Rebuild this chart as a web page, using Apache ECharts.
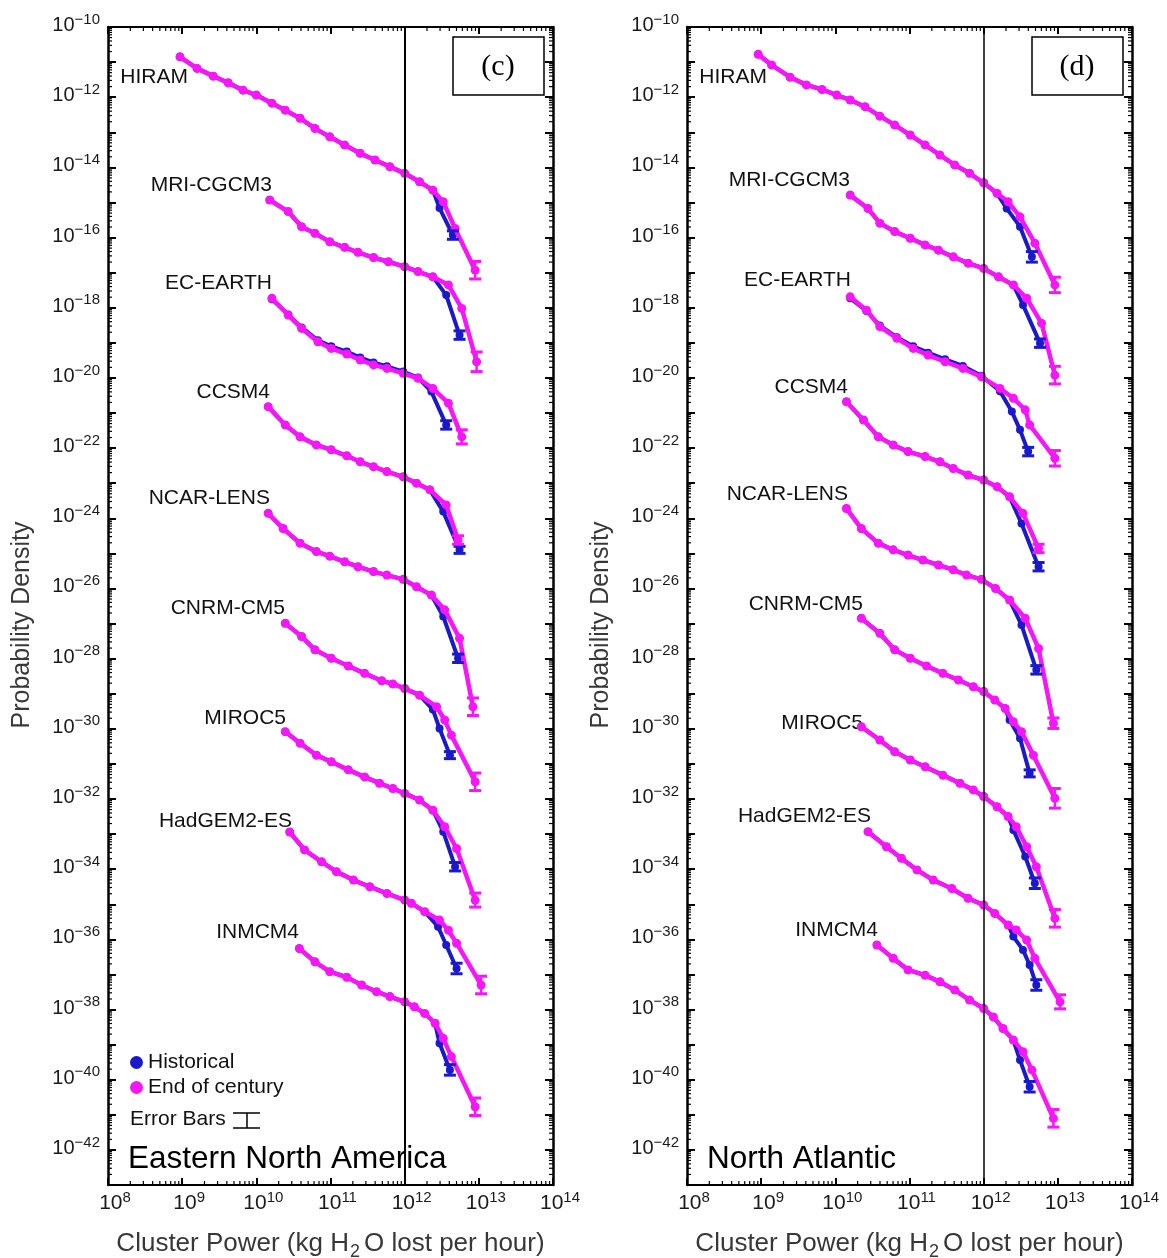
<!DOCTYPE html>
<html>
<head>
<meta charset="utf-8">
<script src="https://cdn.jsdelivr.net/npm/echarts@6/dist/echarts.min.js"></script>
<style>
html,body{margin:0;padding:0;background:#fff;}
#chart{width:1167px;height:1258px;}
</style>
</head>
<body>
<div id="chart"></div>
<script>
// ---------------- DATA (log10 of cluster power, log10 of probability density) ----------------
const MODELS = ['HIRAM','MRI-CGCM3','EC-EARTH','CCSM4','NCAR-LENS','CNRM-CM5','MIROC5','HadGEM2-ES','INMCM4'];
const X_TICK_EXPONENTS = [8, 9, 10, 11, 12, 13, 14];
const Y_TICK_EXPONENTS = [-10, -12, -14, -16, -18, -20, -22, -24, -26, -28, -30, -32, -34, -36, -38, -40, -42];
const X_RANGE = [8, 14];
const Y_RANGE = [-43, -10];
const THRESHOLD_EXP = 12;
const PANEL_TAGS = ['(c)', '(d)'];
const REGIONS = ['Eastern North America', 'North Atlantic'];
const LEGEND_NAMES = ['Historical', 'End of century'];

// ---- Panel (c): Eastern North America ----
const cBody_HIRAM = [[8.97,-10.85],[9.20,-11.18],[9.42,-11.40],[9.62,-11.59],[9.82,-11.80],[10.00,-11.94],[10.21,-12.17],[10.39,-12.37],[10.59,-12.60],[10.79,-12.89],[10.99,-13.13],[11.19,-13.36],[11.40,-13.60],[11.60,-13.79],[11.80,-13.98],[12.00,-14.17],[12.20,-14.41],[12.38,-14.65]];
const cHist_HIRAM = cBody_HIRAM.concat([[12.47,-15.16],[12.65,-15.93]]);
const cEnd_HIRAM  = cBody_HIRAM.concat([[12.52,-14.98],[12.68,-15.74],[12.95,-16.93]]);

const cBody_MRI = [[10.18,-14.93],[10.43,-15.26],[10.61,-15.69],[10.79,-15.88],[10.99,-16.12],[11.19,-16.28],[11.37,-16.42],[11.58,-16.57],[11.78,-16.69],[12.00,-16.83],[12.18,-16.97],[12.38,-17.12]];
const cHist_MRI = cBody_MRI.concat([[12.56,-17.64],[12.74,-18.78]]);
const cEnd_MRI  = cBody_MRI.concat([[12.59,-17.35],[12.77,-18.02],[12.97,-19.54]]);

const cHist_EC = [[10.21,-17.76],[10.43,-18.19],[10.61,-18.56],[10.83,-18.93],[11.01,-19.10],[11.22,-19.25],[11.40,-19.42],[11.58,-19.56],[11.76,-19.67],[11.98,-19.82],[12.18,-19.99],[12.36,-20.39],[12.56,-21.34]];
const cEnd_EC  = [[10.21,-17.73],[10.43,-18.21],[10.61,-18.59],[10.83,-18.97],[11.01,-19.16],[11.22,-19.32],[11.40,-19.49],[11.58,-19.63],[11.76,-19.73],[11.98,-19.87],[12.18,-20.01],[12.38,-20.30],[12.59,-20.72],[12.77,-21.68]];

const cBody_CCSM4 = [[10.16,-20.82],[10.39,-21.34],[10.59,-21.68],[10.81,-21.91],[11.01,-22.05],[11.22,-22.22],[11.40,-22.39],[11.58,-22.53],[11.76,-22.67],[11.98,-22.82],[12.16,-23.00],[12.34,-23.19]];
const cHist_CCSM4 = cBody_CCSM4.concat([[12.52,-23.81],[12.74,-24.90]]);
const cEnd_CCSM4  = cBody_CCSM4.concat([[12.56,-23.62],[12.72,-24.62]]);

const cBody_NCAR = [[10.16,-23.86],[10.36,-24.29],[10.59,-24.71],[10.81,-24.95],[10.99,-25.08],[11.19,-25.24],[11.37,-25.38],[11.58,-25.52],[11.76,-25.62],[11.98,-25.74],[12.16,-25.95],[12.36,-26.19]];
const cHist_NCAR = cBody_NCAR.concat([[12.52,-26.80],[12.72,-27.99]]);
const cEnd_NCAR  = cBody_NCAR.concat([[12.54,-26.61],[12.74,-27.42],[12.92,-29.37]]);

const cBody_CNRM = [[10.39,-26.99],[10.61,-27.37],[10.79,-27.75],[11.01,-27.99],[11.24,-28.21],[11.46,-28.42],[11.69,-28.63],[11.84,-28.72],[12.00,-28.85],[12.20,-29.04]];
const cHist_CNRM = cBody_CNRM.concat([[12.38,-29.45],[12.47,-29.99],[12.61,-30.75]]);
const cEnd_CNRM  = cBody_CNRM.concat([[12.43,-29.37],[12.54,-29.75],[12.63,-30.18],[12.95,-31.51]]);

const cBody_MIROC5 = [[10.39,-30.08],[10.59,-30.41],[10.81,-30.75],[11.01,-30.94],[11.24,-31.17],[11.46,-31.37],[11.66,-31.55],[11.84,-31.70],[12.00,-31.84],[12.20,-32.03],[12.38,-32.32]];
const cHist_MIROC5 = cBody_MIROC5.concat([[12.52,-32.93],[12.68,-33.93]]);
const cEnd_MIROC5  = cBody_MIROC5.concat([[12.54,-32.79],[12.70,-33.41],[12.95,-34.88]]);

const cBody_HadGEM = [[10.45,-32.94],[10.65,-33.45],[10.88,-33.79],[11.08,-34.07],[11.31,-34.31],[11.53,-34.50],[11.76,-34.69],[12.00,-34.88],[12.09,-34.97],[12.27,-35.21]];
const cHist_HadGEM = cBody_HadGEM.concat([[12.45,-35.64],[12.56,-36.16],[12.70,-36.83]]);
const cEnd_HadGEM  = cBody_HadGEM.concat([[12.47,-35.45],[12.59,-35.74],[12.70,-36.11],[13.03,-37.30]]);

const cBody_INMCM4 = [[10.58,-36.26],[10.79,-36.64],[10.99,-36.92],[11.22,-37.08],[11.42,-37.30],[11.62,-37.49],[11.80,-37.63],[12.00,-37.78],[12.13,-37.92],[12.27,-38.11],[12.41,-38.39]];
const cHist_INMCM4 = cBody_INMCM4.concat([[12.47,-38.96],[12.61,-39.72]]);
const cEnd_INMCM4  = cBody_INMCM4.concat([[12.52,-38.82],[12.63,-39.34],[12.95,-40.77]]);

// half-height (decades) of the error bar on the last point of each curve
const cErrHist = [0.12, 0.12, 0.12, 0.10, 0.12, 0.10, 0.12, 0.15, 0.15];
const cErrEnd  = [0.25, 0.28, 0.20, 0.12, 0.25, 0.25, 0.20, 0.25, 0.25];

// ---- Panel (d): North Atlantic ----
const dBody_HIRAM = [[8.96,-10.78],[9.14,-11.08],[9.39,-11.43],[9.61,-11.65],[9.82,-11.78],[10.02,-11.94],[10.20,-12.08],[10.40,-12.27],[10.60,-12.54],[10.80,-12.79],[11.01,-13.08],[11.21,-13.36],[11.41,-13.65],[11.61,-13.93],[11.81,-14.17],[12.00,-14.44],[12.18,-14.74]];
const dHist_HIRAM = dBody_HIRAM.concat([[12.31,-15.17],[12.49,-15.69],[12.65,-16.55]]);
const dEnd_HIRAM  = dBody_HIRAM.concat([[12.33,-14.98],[12.49,-15.41],[12.69,-16.16],[12.96,-17.35]]);

const dBody_MRI = [[10.20,-14.79],[10.44,-15.17],[10.60,-15.59],[10.80,-15.83],[11.01,-16.02],[11.21,-16.21],[11.39,-16.36],[11.59,-16.55],[11.79,-16.73],[12.00,-16.88],[12.20,-17.12],[12.40,-17.35]];
const dHist_MRI = dBody_MRI.concat([[12.53,-17.92],[12.76,-19.01]]);
const dEnd_MRI  = dBody_MRI.concat([[12.58,-17.73],[12.78,-18.44],[12.96,-19.92]]);

const dHist_EC = [[10.20,-17.73],[10.42,-18.09],[10.60,-18.51],[10.83,-18.84],[11.05,-19.10],[11.25,-19.28],[11.48,-19.47],[11.72,-19.66],[11.97,-19.94],[12.22,-20.38],[12.38,-20.96],[12.49,-21.48],[12.60,-22.10]];
const dEnd_EC  = [[10.20,-17.69],[10.42,-18.07],[10.60,-18.54],[10.83,-18.87],[11.05,-19.16],[11.25,-19.35],[11.48,-19.54],[11.72,-19.73],[11.97,-19.97],[12.22,-20.30],[12.40,-20.58],[12.56,-20.91],[12.62,-21.34],[12.96,-22.29]];

const dBody_CCSM4 = [[10.15,-20.68],[10.38,-21.20],[10.58,-21.68],[10.78,-21.91],[10.98,-22.10],[11.21,-22.24],[11.41,-22.39],[11.59,-22.58],[11.79,-22.77],[12.00,-22.91],[12.18,-23.10],[12.35,-23.39]];
const dHist_CCSM4 = dBody_CCSM4.concat([[12.51,-24.15],[12.74,-25.38]]);
const dEnd_CCSM4  = dBody_CCSM4.concat([[12.53,-23.86],[12.74,-24.86]]);

const dBody_NCAR = [[10.15,-23.72],[10.35,-24.29],[10.58,-24.71],[10.78,-24.90],[10.98,-25.05],[11.18,-25.19],[11.39,-25.33],[11.59,-25.47],[11.77,-25.62],[11.97,-25.74],[12.16,-26.00],[12.35,-26.33]];
const dHist_NCAR = dBody_NCAR.concat([[12.51,-27.04],[12.71,-28.32]]);
const dEnd_NCAR  = dBody_NCAR.concat([[12.56,-26.85],[12.74,-27.71],[12.94,-29.84]]);

const dBody_CNRM = [[10.35,-26.85],[10.60,-27.28],[10.80,-27.75],[11.01,-27.99],[11.23,-28.21],[11.45,-28.42],[11.66,-28.61],[11.86,-28.80],[12.00,-28.94],[12.15,-29.18],[12.29,-29.42]];
const dHist_CNRM = dBody_CNRM.concat([[12.35,-29.75],[12.49,-30.27],[12.62,-31.27]]);
const dEnd_CNRM  = dBody_CNRM.concat([[12.40,-29.80],[12.51,-30.08],[12.67,-30.75],[12.96,-31.98]]);

const dBody_MIROC5 = [[10.35,-29.94],[10.60,-30.32],[10.80,-30.65],[11.01,-30.89],[11.21,-31.08],[11.45,-31.32],[11.68,-31.55],[11.86,-31.74],[12.00,-31.93],[12.18,-32.22],[12.33,-32.50]];
const dHist_MIROC5 = dBody_MIROC5.concat([[12.40,-32.88],[12.56,-33.64],[12.69,-34.40]]);
const dEnd_MIROC5  = dBody_MIROC5.concat([[12.44,-32.79],[12.58,-33.36],[12.71,-33.93],[12.96,-35.40]]);

const dBody_HadGEM = [[10.44,-32.93],[10.69,-33.36],[10.89,-33.69],[11.10,-34.02],[11.32,-34.31],[11.57,-34.55],[11.79,-34.83],[12.00,-35.02],[12.15,-35.26],[12.33,-35.59]];
const dHist_HadGEM = dBody_HadGEM.concat([[12.40,-35.92],[12.53,-36.30],[12.62,-36.73],[12.71,-37.30]]);
const dEnd_HadGEM  = dBody_HadGEM.concat([[12.44,-35.73],[12.58,-36.02],[12.69,-36.54],[13.03,-37.78]]);

const dBody_INMCM4 = [[10.56,-36.16],[10.78,-36.54],[10.98,-36.87],[11.21,-37.02],[11.41,-37.21],[11.61,-37.44],[11.81,-37.73],[12.00,-37.97],[12.13,-38.21],[12.26,-38.54],[12.40,-38.87]];
const dHist_INMCM4 = dBody_INMCM4.concat([[12.49,-39.44],[12.62,-40.20]]);
const dEnd_INMCM4  = dBody_INMCM4.concat([[12.53,-39.20],[12.65,-39.72],[12.94,-41.10]]);

const dErrHist = [0.15, 0.12, 0.12, 0.12, 0.12, 0.10, 0.15, 0.15, 0.15];
const dErrEnd  = [0.22, 0.25, 0.22, 0.12, 0.15, 0.28, 0.25, 0.20, 0.25];

// ---------------- LAYOUT / STYLE ----------------
const FONT = '"Liberation Sans", Arial, Helvetica, sans-serif';
const BLUE = '#1a1acc';
const MAGENTA = '#f716f7';
const GRIDS = [
  {left: 108, top: 27, width: 445, height: 1158},
  {left: 687, top: 27, width: 445, height: 1158}
];
// model label anchor: [right edge x, centre y] in pixels
const LABEL_POS = [
  [[188,77],[272,185],[272,283],[270,392],[270,498],[285,608],[286,718],[292,821],[299,932]],
  [[767,77],[850,180],[851,280],[848,387],[848,494],[863,604],[863,723],[871,816],[878,930]]
];

const PANELS = [
  {hist: [cHist_HIRAM,cHist_MRI,cHist_EC,cHist_CCSM4,cHist_NCAR,cHist_CNRM,cHist_MIROC5,cHist_HadGEM,cHist_INMCM4],
   end:  [cEnd_HIRAM,cEnd_MRI,cEnd_EC,cEnd_CCSM4,cEnd_NCAR,cEnd_CNRM,cEnd_MIROC5,cEnd_HadGEM,cEnd_INMCM4],
   errHist: cErrHist, errEnd: cErrEnd},
  {hist: [dHist_HIRAM,dHist_MRI,dHist_EC,dHist_CCSM4,dHist_NCAR,dHist_CNRM,dHist_MIROC5,dHist_HadGEM,dHist_INMCM4],
   end:  [dEnd_HIRAM,dEnd_MRI,dEnd_EC,dEnd_CCSM4,dEnd_NCAR,dEnd_CNRM,dEnd_MIROC5,dEnd_HadGEM,dEnd_INMCM4],
   errHist: dErrHist, errEnd: dErrEnd}
];

const MINOR_OFFSETS = [2,3,4,5,6,7,8,9].map(k => Math.log10(k));
const TXT = '#1a1a1a';
const NAME_C = '#383838';

function xAxisPair(gi) {
  const common = {
    type: 'value', gridIndex: gi, min: X_RANGE[0], max: X_RANGE[1], interval: 1,
    splitLine: {show: false},
    axisLine: {show: true, onZero: false, lineStyle: {color: '#000', width: 2}},
    axisTick: {show: true, inside: true, length: 7, lineStyle: {color: '#000', width: 2}}
  };
  return [
    Object.assign({}, common, {
      position: 'bottom',
      axisLabel: {
        show: true, margin: 5, padding: [0, 0, 0, 14],
        formatter: v => X_TICK_EXPONENTS.indexOf(v) >= 0 ? '{b|10}{s|' + v + '}' : '',
        rich: {
          b: {fontSize: 21, fontFamily: FONT, color: TXT, lineHeight: 22, padding: [5, 0, 0, 0]},
          s: {fontSize: 15, fontFamily: FONT, color: TXT, lineHeight: 15, verticalAlign: 'top'}
        }
      },
      name: '{n|Cluster Power (kg H}{sub|2}{n|O lost per hour)}',
      nameLocation: 'middle', nameGap: 46,
      nameTextStyle: {
        rich: {
          n: {fontSize: 26, fontFamily: FONT, color: NAME_C, lineHeight: 30, verticalAlign: 'top'},
          sub: {fontSize: 18, fontFamily: FONT, color: NAME_C, lineHeight: 18, verticalAlign: 'bottom', padding: [0, 4, 0, 1]}
        }
      }
    }),
    Object.assign({}, common, {position: 'top', axisLabel: {show: false}})
  ];
}

function yAxisPair(gi) {
  const common = {
    type: 'value', gridIndex: gi, min: Y_RANGE[0], max: Y_RANGE[1], interval: 1,
    splitLine: {show: false},
    axisLine: {show: true, onZero: false, lineStyle: {color: '#000', width: 2.5}},
    axisTick: {show: true, inside: true, length: 8, lineStyle: {color: '#000', width: 2}}
  };
  return [
    Object.assign({}, common, {
      position: 'left',
      axisLabel: {
        show: true, margin: 8, verticalAlign: 'bottom',
        formatter: v => Y_TICK_EXPONENTS.indexOf(v) >= 0 ? '{b|10}{s|\u2212' + Math.abs(v) + '}' : '',
        rich: {
          b: {fontSize: 20, fontFamily: FONT, color: TXT, lineHeight: 10, padding: [12, 0, 0, 0]},
          s: {fontSize: 15, fontFamily: FONT, color: TXT, lineHeight: 15, verticalAlign: 'top'}
        }
      }
    }),
    Object.assign({}, common, {position: 'right', axisLabel: {show: false}})
  ];
}

function errorRender(params, api) {
  const x = api.value(0), y = api.value(1), e = api.value(2), ci = api.value(3);
  const p0 = api.coord([x, y - e]);
  const p1 = api.coord([x, y + e]);
  const color = ci ? MAGENTA : BLUE;
  const w = 6;
  return {
    type: 'group',
    children: [
      {type: 'line', shape: {x1: p0[0], y1: p0[1], x2: p1[0], y2: p1[1]}, style: {stroke: color, lineWidth: 2.5}},
      {type: 'line', shape: {x1: p0[0] - w, y1: p0[1], x2: p0[0] + w, y2: p0[1]}, style: {stroke: color, lineWidth: 3}},
      {type: 'line', shape: {x1: p1[0] - w, y1: p1[1], x2: p1[0] + w, y2: p1[1]}, style: {stroke: color, lineWidth: 3}}
    ]
  };
}

function minorTickRender(params, api) {
  const children = [];
  const st = {stroke: '#000', lineWidth: 1.2};
  for (let d = X_RANGE[0]; d < X_RANGE[1]; d++) {
    MINOR_OFFSETS.forEach(m => {
      const pb = api.coord([d + m, Y_RANGE[0]]);
      const pt = api.coord([d + m, Y_RANGE[1]]);
      children.push({type: 'line', shape: {x1: pb[0], y1: pb[1], x2: pb[0], y2: pb[1] - 4}, style: st});
      children.push({type: 'line', shape: {x1: pt[0], y1: pt[1], x2: pt[0], y2: pt[1] + 4}, style: st});
    });
  }
  for (let d = Y_RANGE[0]; d < Y_RANGE[1]; d++) {
    MINOR_OFFSETS.forEach(m => {
      const pl = api.coord([X_RANGE[0], d + m]);
      const pr = api.coord([X_RANGE[1], d + m]);
      children.push({type: 'line', shape: {x1: pl[0], y1: pl[1], x2: pl[0] + 4, y2: pl[1]}, style: st});
      children.push({type: 'line', shape: {x1: pr[0], y1: pr[1], x2: pr[0] - 4, y2: pr[1]}, style: st});
    });
  }
  return {type: 'group', children};
}

const xAxes = [], yAxes = [], series = [], graphics = [];
PANELS.forEach((panel, gi) => {
  xAxes.push(...xAxisPair(gi));
  yAxes.push(...yAxisPair(gi));
  const xi = gi * 2, yi = gi * 2;
  // historical (blue) first, end-of-century (magenta) on top
  panel.hist.forEach((arr, mi) => {
    const s = {
      type: 'line', name: LEGEND_NAMES[0], xAxisIndex: xi, yAxisIndex: yi,
      data: arr, symbol: 'circle', symbolSize: 8, showSymbol: true,
      lineStyle: {color: BLUE, width: 4}, itemStyle: {color: BLUE},
      silent: true, z: 3
    };
    if (mi === 0) {
      s.markLine = {
        silent: true, symbol: 'none', label: {show: false}, animation: false,
        lineStyle: {color: '#000', width: gi === 0 ? 2 : 1.5, type: 'solid'},
        data: [{xAxis: THRESHOLD_EXP}]
      };
    }
    series.push(s);
  });
  panel.end.forEach(arr => {
    series.push({
      type: 'line', name: LEGEND_NAMES[1], xAxisIndex: xi, yAxisIndex: yi,
      data: arr, symbol: 'circle', symbolSize: 9, showSymbol: true,
      lineStyle: {color: MAGENTA, width: 4.5}, itemStyle: {color: MAGENTA},
      silent: true, z: 4
    });
  });
  const errData = [];
  panel.hist.forEach((arr, mi) => { const p = arr[arr.length - 1]; errData.push([p[0], p[1], panel.errHist[mi], 0]); });
  panel.end.forEach((arr, mi) => { const p = arr[arr.length - 1]; errData.push([p[0], p[1], panel.errEnd[mi], 1]); });
  series.push({type: 'custom', xAxisIndex: xi, yAxisIndex: yi, data: errData, renderItem: errorRender, silent: true, z: 5});
  series.push({type: 'custom', xAxisIndex: xi, yAxisIndex: yi, data: [[X_RANGE[0], Y_RANGE[0]]], renderItem: minorTickRender, silent: true, z: 6});

  // model labels
  MODELS.forEach((m, mi) => {
    const pos = LABEL_POS[gi][mi];
    graphics.push({type: 'text', x: pos[0], y: pos[1], silent: true,
      style: {text: m, fill: '#111', font: '21px ' + FONT, align: 'right', verticalAlign: 'middle'}});
  });
  const g = GRIDS[gi];
  // panel tag box
  graphics.push({type: 'rect', silent: true, z: 10,
    shape: {x: g.left + 345, y: 37, width: 91, height: 58},
    style: {fill: '#fff', stroke: '#000', lineWidth: 1.5}});
  graphics.push({type: 'text', silent: true, z: 11, x: g.left + 390, y: 67,
    style: {text: PANEL_TAGS[gi], fill: '#000', font: '30px "Liberation Serif", "Times New Roman", serif', align: 'center', verticalAlign: 'middle'}});
  // region name
  graphics.push({type: 'text', silent: true, x: g.left + 20, y: 1159,
    style: {text: REGIONS[gi], fill: '#000', font: '31.5px ' + FONT, align: 'left', verticalAlign: 'middle'}});
  // y axis title
  graphics.push({type: 'text', silent: true, x: g.left - 86, y: 625, rotation: Math.PI / 2,
    style: {text: 'Probability Density', fill: NAME_C, font: '25px ' + FONT, align: 'center', verticalAlign: 'middle'}});
});

// error-bar legend entry (left panel)
graphics.push({type: 'text', silent: true, x: 130, y: 1119,
  style: {text: 'Error Bars', fill: '#111', font: '21px ' + FONT, align: 'left', verticalAlign: 'middle'}});
graphics.push({type: 'line', silent: true, shape: {x1: 233, y1: 1113, x2: 260, y2: 1113}, style: {stroke: '#000', lineWidth: 1.5}});
graphics.push({type: 'line', silent: true, shape: {x1: 233, y1: 1128, x2: 260, y2: 1128}, style: {stroke: '#000', lineWidth: 1.5}});
graphics.push({type: 'line', silent: true, shape: {x1: 247, y1: 1113, x2: 247, y2: 1128}, style: {stroke: '#000', lineWidth: 1.5}});

const chart = echarts.init(document.getElementById('chart'), null, {renderer: 'canvas'});
chart.setOption({
  animation: false,
  backgroundColor: '#fff',
  grid: GRIDS.map(g => Object.assign({containLabel: false, outerBoundsMode: 'none'}, g)),
  xAxis: xAxes,
  yAxis: yAxes,
  legend: {
    data: LEGEND_NAMES, left: 130, top: 1052, orient: 'vertical', icon: 'circle',
    itemWidth: 13, itemHeight: 13, itemGap: 4, padding: 0, selectedMode: false,
    textStyle: {fontSize: 21, fontFamily: FONT, color: '#111'}
  },
  series: series,
  graphic: graphics
});
</script>
</body>
</html>
